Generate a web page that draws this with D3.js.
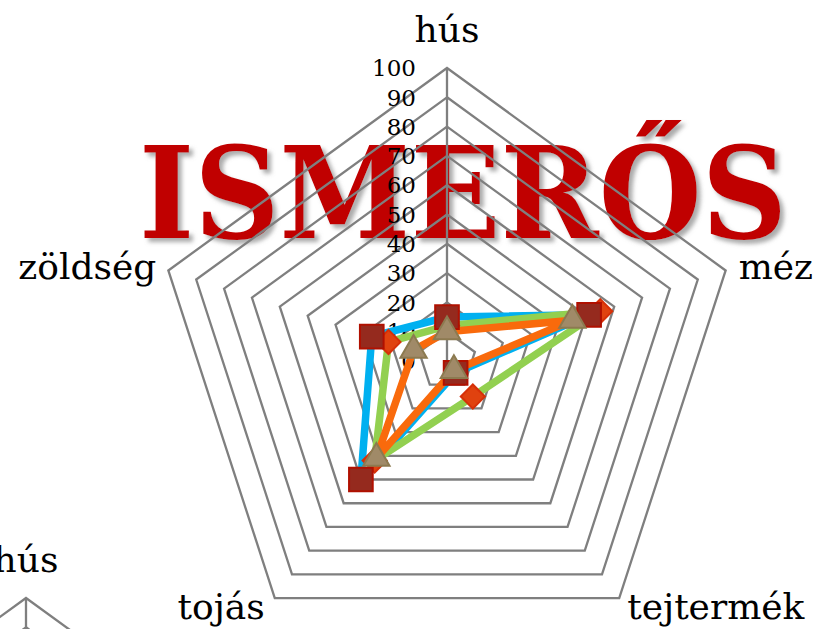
<!DOCTYPE html>
<html>
<head>
<meta charset="utf-8">
<script src="https://cdn.jsdelivr.net/npm/d3@7"></script>
<style>
  html, body { margin: 0; padding: 0; background: #fff; overflow: hidden; }
  svg { display: block; }
</style>
</head>
<body>
<svg id="chart"></svg>
<script>
// Kategóriák és adatsorok
const categories = ['hús', 'méz', 'tejtermék', 'tojás', 'zöldség'];
const tickValues = [0, 10, 20, 30, 40, 50, 60, 70, 80, 90, 100];
const seriesBlue = [15, 51, 5, 50, 27];
const seriesGreen = [12, 55, 15, 42, 21];
const seriesOrange = [10, 45, 4, 41, 12];
const titleText = 'ISMERŐS';

const width = 819;
const height = 629;
const cx = 447;
const cy = 361;
const radius = 293;
const font = '"DejaVu Serif", "Liberation Serif", serif';

const svg = d3.select('#chart')
    .attr('width', width)
    .attr('height', height);

const defs = svg.append('defs');
const shadow = defs.append('filter')
    .attr('id', 'shadow')
    .attr('x', '-10%').attr('y', '-10%')
    .attr('width', '130%').attr('height', '130%');
shadow.append('feDropShadow')
    .attr('dx', 4).attr('dy', 4)
    .attr('stdDeviation', 2)
    .attr('flood-color', '#7f7f7f')
    .attr('flood-opacity', 0.65);

// Nagy cím a diagram mögött
svg.append('text')
    .attr('x', 139)
    .attr('y', 238)
    .attr('textLength', 648)
    .attr('lengthAdjust', 'spacingAndGlyphs')
    .attr('filter', 'url(#shadow)')
    .style('font-family', font)
    .style('font-size', '127px')
    .style('font-weight', 'bold')
    .style('fill', '#c00000')
    .text(titleText);

const rScale = d3.scaleLinear().domain([0, 100]).range([0, radius]);
const step = 2 * Math.PI / categories.length;

const radial = d3.lineRadial()
    .angle((d, i) => i * step)
    .radius(d => rScale(d))
    .curve(d3.curveLinearClosed);

function point(i, v) {
    const a = i * step - Math.PI / 2;
    return [Math.cos(a) * rScale(v), Math.sin(a) * rScale(v)];
}

function drawGrid(g) {
    g.selectAll('path.ring')
        .data(tickValues.filter(t => t > 0))
        .enter()
        .append('path')
        .attr('class', 'ring')
        .attr('d', t => radial(categories.map(() => t)))
        .attr('fill', 'none')
        .attr('stroke', '#7f7f7f')
        .attr('stroke-width', 2.3);

    g.append('line')
        .attr('x1', 0).attr('y1', 0)
        .attr('x2', 0).attr('y2', -rScale(100))
        .attr('stroke', '#7f7f7f')
        .attr('stroke-width', 2.3);
}

// Fő diagram
const chart = svg.append('g')
    .attr('transform', `translate(${cx}, ${cy})`);

drawGrid(chart);

chart.selectAll('text.tick')
    .data(tickValues)
    .enter()
    .append('text')
    .attr('class', 'tick')
    .attr('x', -31)
    .attr('y', d => -rScale(d))
    .attr('dy', '0.36em')
    .attr('text-anchor', 'end')
    .style('font-family', font)
    .style('font-size', '23px')
    .style('fill', '#000')
    .text(d => d);

// Kategória feliratok
const labelPos = [
    { dx: 0, dy: -26, anchor: 'middle' },
    { dx: 13, dy: 9, anchor: 'start' },
    { dx: 8, dy: 21, anchor: 'start' },
    { dx: -10, dy: 21, anchor: 'end' },
    { dx: -12, dy: 9, anchor: 'end' }
];
chart.selectAll('text.cat')
    .data(categories)
    .enter()
    .append('text')
    .attr('class', 'cat')
    .attr('x', (d, i) => point(i, 100)[0] + labelPos[i].dx)
    .attr('y', (d, i) => point(i, 100)[1] + labelPos[i].dy)
    .attr('text-anchor', (d, i) => labelPos[i].anchor)
    .style('font-family', font)
    .style('font-size', '36px')
    .style('fill', '#000')
    .text(d => d);

// Vonalak
const lines = [
    { values: seriesBlue, color: '#00b0f0' },
    { values: seriesGreen, color: '#92d050' },
    { values: seriesOrange, color: '#f96a0c' }
];
lines.forEach(s => {
    chart.append('path')
        .attr('d', radial(s.values))
        .attr('fill', 'none')
        .attr('stroke', s.color)
        .attr('stroke-width', 7.5)
        .attr('stroke-linejoin', 'miter');
});

// Jelölők
const markers = [
    { values: seriesGreen, type: d3.symbolSquare, size: 290, rotate: 45, fill: '#e0420f', stroke: '#d63008' },
    { values: seriesBlue, type: d3.symbolSquare, size: 560, rotate: 0, fill: '#952a1e', stroke: '#b01000' },
    { values: seriesOrange, type: d3.symbolTriangle, size: 300, rotate: 0, fill: '#a08a68', stroke: '#8c7a50' }
];
markers.forEach(m => {
    chart.selectAll(null)
        .data(m.values)
        .enter()
        .append('path')
        .attr('d', d3.symbol().type(m.type).size(m.size))
        .attr('transform', (d, i) => {
            const p = point(i, d);
            return `translate(${p[0]}, ${p[1]}) rotate(${m.rotate})`;
        })
        .attr('fill', m.fill)
        .attr('stroke', m.stroke)
        .attr('stroke-width', 2);
});

// Második diagram (csak a teteje látszik)
const chart2 = svg.append('g')
    .attr('transform', `translate(26, ${598 + radius})`);
drawGrid(chart2);
chart2.append('text')
    .attr('x', 0)
    .attr('y', -rScale(100) - 26)
    .attr('text-anchor', 'middle')
    .style('font-family', font)
    .style('font-size', '36px')
    .style('fill', '#000')
    .text(categories[0]);
</script>
</body>
</html>
